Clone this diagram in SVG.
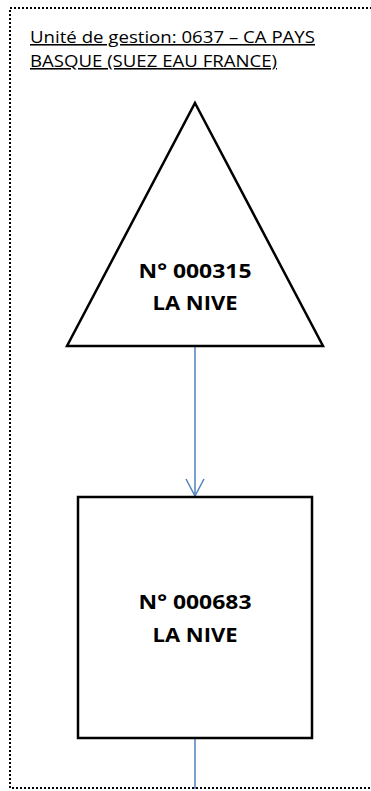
<svg xmlns="http://www.w3.org/2000/svg" width="371" height="791" viewBox="0 0 371 791">
<defs>
<style>
.frame{fill:none;stroke:#000;stroke-width:2;stroke-dasharray:2 2}
.shape{fill:#fff;stroke:#000;stroke-width:2.5}
.conn{stroke:#4F81BD;stroke-width:1.5;fill:none}
.hdr{font-family:"Open Sans","Liberation Sans",sans-serif;font-size:15.5px;text-decoration:underline;fill:#000}
.lbl{font-family:"Open Sans","Liberation Sans",sans-serif;font-weight:bold;font-size:20px;text-anchor:middle;fill:#000}
</style>
</defs>
<rect class="frame" x="10" y="8" width="380" height="780"/>
<g id="header">
<text class="hdr" x="30" y="43" textLength="285" lengthAdjust="spacingAndGlyphs">Unité de gestion: 0637 – CA PAYS</text>
<text class="hdr" x="30" y="67" textLength="247" lengthAdjust="spacingAndGlyphs">BASQUE (SUEZ EAU FRANCE)</text>
</g>
<g id="connectors">
<line class="conn" x1="195" y1="346" x2="195" y2="496"/>
<polyline class="conn" points="186,479 195,496 204,479"/>
<line class="conn" x1="195" y1="738" x2="195" y2="789"/>
</g>
<g id="node-000315">
<polygon class="shape" points="195,103 323,346 67,346"/>
<text class="lbl" x="195" y="278" textLength="113" lengthAdjust="spacingAndGlyphs">N° 000315</text>
<text class="lbl" x="195" y="310" textLength="85" lengthAdjust="spacingAndGlyphs">LA NIVE</text>
</g>
<g id="node-000683">
<rect class="shape" x="78" y="497" width="234" height="241"/>
<text class="lbl" x="195" y="609" textLength="113" lengthAdjust="spacingAndGlyphs">N° 000683</text>
<text class="lbl" x="195" y="642" textLength="85" lengthAdjust="spacingAndGlyphs">LA NIVE</text>
</g>
</svg>
